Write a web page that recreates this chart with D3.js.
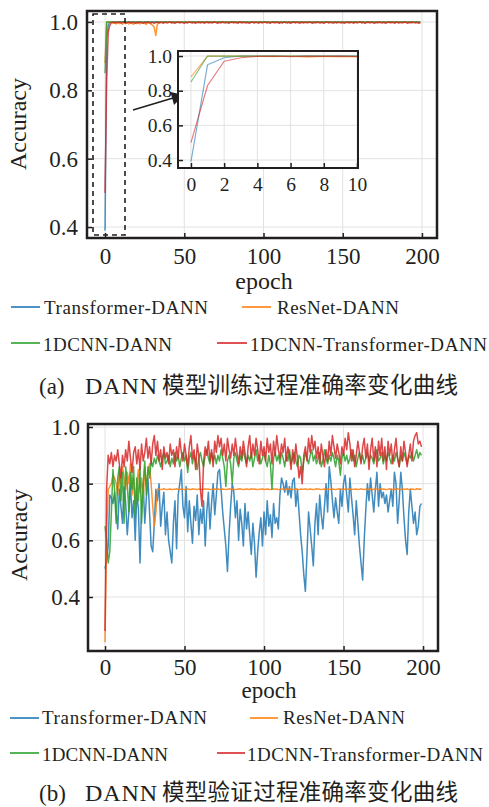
<!DOCTYPE html>
<html><head><meta charset="utf-8">
<script src="https://cdn.jsdelivr.net/npm/d3@7/dist/d3.min.js"></script>
<style>body{margin:0;background:#fff}svg{display:block}</style>
</head><body>
<svg id="c" width="489" height="807"></svg>
<script>
// ---------------- DATA ----------------
const seriesNames = ["Transformer-DANN", "ResNet-DANN", "1DCNN-DANN", "1DCNN-Transformer-DANN"];
const xTicks = [0, 50, 100, 150, 200];
const yTicksTrain = [0.4, 0.6, 0.8, 1.0];
const yTicksVal = [0.4, 0.6, 0.8, 1.0];
const insetXTicks = [0, 2, 4, 6, 8, 10];
const insetYTicks = [0.4, 0.6, 0.8, 1.0];
const captionA = ["(a)", "DANN", "模型训练过程准确率变化曲线"];
const captionB = ["(b)", "DANN", "模型验证过程准确率变化曲线"];

// Training accuracy (epochs 0..199)
const trainTransformer = [
0.39,0.95,0.99,1.0,0.999,1.0,0.998,1.0,1.0,0.999,
1.0,0.999,1.0,1.0,0.998,1.0,0.999,1.0,1.0,0.999,
1.0,1.0,0.999,1.0,0.998,1.0,1.0,0.999,1.0,1.0,
0.999,1.0,1.0,0.998,1.0,0.999,1.0,1.0,0.999,1.0,
1.0,0.999,1.0,0.998,1.0,1.0,0.999,1.0,1.0,0.999,
1.0,1.0,0.998,1.0,0.999,1.0,1.0,0.999,1.0,0.998,
1.0,0.999,1.0,1.0,0.999,1.0,0.998,1.0,1.0,0.999,
1.0,1.0,0.999,1.0,0.998,1.0,0.999,1.0,1.0,1.0,
0.999,1.0,1.0,0.998,1.0,0.999,1.0,1.0,0.999,1.0,
1.0,0.999,1.0,1.0,0.998,1.0,1.0,0.999,1.0,0.999,
1.0,1.0,0.999,1.0,0.998,1.0,1.0,0.999,1.0,1.0,
0.999,1.0,0.998,1.0,1.0,0.999,1.0,1.0,0.999,1.0,
1.0,0.999,1.0,1.0,0.998,1.0,0.999,1.0,1.0,0.999,
1.0,1.0,0.999,1.0,1.0,0.998,1.0,0.999,1.0,1.0,
0.999,1.0,1.0,0.999,1.0,0.998,1.0,1.0,0.999,1.0,
1.0,0.999,1.0,0.998,1.0,1.0,0.999,1.0,1.0,0.999,
1.0,1.0,0.999,1.0,0.998,1.0,1.0,0.999,1.0,1.0,
0.999,1.0,1.0,0.998,1.0,0.999,1.0,1.0,0.999,1.0,
1.0,0.999,1.0,1.0,0.999,1.0,0.998,1.0,1.0,0.999,
1.0,1.0,0.999,1.0,0.998,1.0,1.0,0.999,1.0,1.0];
const trainResNet = [
0.88,1.0,1.0,0.999,0.998,0.996,0.999,0.994,0.998,0.995,
0.997,0.993,0.998,0.995,0.999,0.994,0.997,0.996,0.993,0.998,
0.995,0.998,0.994,0.997,0.999,0.995,0.993,0.998,0.996,0.994,
0.99,0.985,0.96,0.993,0.997,0.999,0.998,1.0,0.999,0.998,
1.0,0.999,0.998,1.0,0.999,1.0,0.998,0.999,1.0,0.999,
0.998,1.0,0.999,0.999,1.0,0.998,1.0,0.999,1.0,0.998,
0.999,1.0,0.998,1.0,0.999,0.999,1.0,0.998,1.0,0.999,
1.0,0.998,0.999,1.0,0.999,0.998,1.0,0.999,1.0,0.998,
0.999,1.0,0.999,0.998,1.0,0.999,1.0,0.998,0.999,1.0,
0.998,0.999,1.0,0.999,0.998,1.0,0.999,1.0,0.998,0.999,
1.0,0.999,0.998,1.0,0.999,1.0,0.998,0.999,1.0,0.999,
0.998,1.0,0.999,1.0,0.998,0.999,1.0,0.999,0.998,1.0,
0.999,1.0,0.998,0.999,1.0,0.999,0.998,1.0,0.999,1.0,
0.998,0.999,1.0,0.999,0.998,1.0,0.999,1.0,0.998,0.999,
1.0,0.999,0.998,1.0,0.999,1.0,0.998,0.999,1.0,0.999,
0.998,1.0,0.999,1.0,0.998,0.999,1.0,0.999,0.998,1.0,
0.999,1.0,0.998,0.999,1.0,0.999,0.998,1.0,0.999,1.0,
0.998,0.999,1.0,0.999,0.998,1.0,0.999,1.0,0.998,0.999,
1.0,0.999,0.998,1.0,0.999,1.0,0.998,0.999,1.0,0.999,
0.998,1.0,0.999,1.0,0.998,0.999,1.0,0.999,0.998,1.0];
const trainCNN = [
0.85,1.0,1.0,1.0,0.999,1.0,1.0,0.999,1.0,1.0,
0.999,1.0,1.0,1.0,0.999,1.0,1.0,0.999,1.0,1.0,
1.0,0.999,1.0,1.0,0.999,1.0,1.0,1.0,0.999,1.0,
1.0,0.999,1.0,1.0,1.0,0.999,1.0,1.0,0.999,1.0,
1.0,1.0,0.999,1.0,1.0,0.999,1.0,1.0,1.0,0.999,
1.0,1.0,0.999,1.0,1.0,1.0,0.999,1.0,1.0,0.999,
1.0,1.0,1.0,0.999,1.0,1.0,0.999,1.0,1.0,1.0,
0.999,1.0,1.0,0.999,1.0,1.0,1.0,0.999,1.0,1.0,
0.999,1.0,1.0,1.0,0.999,1.0,1.0,0.999,1.0,1.0,
1.0,0.999,1.0,1.0,0.999,1.0,1.0,1.0,0.999,1.0,
1.0,0.999,1.0,1.0,1.0,0.999,1.0,1.0,0.999,1.0,
1.0,1.0,0.999,1.0,1.0,0.999,1.0,1.0,1.0,0.999,
1.0,1.0,0.999,1.0,1.0,1.0,0.999,1.0,1.0,0.999,
1.0,1.0,1.0,0.999,1.0,1.0,0.999,1.0,1.0,1.0,
0.999,1.0,1.0,0.999,1.0,1.0,1.0,0.999,1.0,1.0,
0.999,1.0,1.0,1.0,0.999,1.0,1.0,0.999,1.0,1.0,
1.0,0.999,1.0,1.0,0.999,1.0,1.0,1.0,0.999,1.0,
1.0,0.999,1.0,1.0,1.0,0.999,1.0,1.0,0.999,1.0,
1.0,1.0,0.999,1.0,1.0,0.999,1.0,1.0,1.0,0.999,
1.0,1.0,0.999,1.0,1.0,1.0,0.999,1.0,1.0,1.0];
const trainHybrid = [
0.50,0.83,0.97,0.99,0.998,1.0,0.997,0.999,0.998,1.0,
0.997,0.999,1.0,0.996,0.998,1.0,0.997,0.999,0.998,0.996,
0.999,0.997,1.0,0.998,0.996,0.999,0.997,1.0,0.998,0.997,
0.999,0.996,0.998,1.0,0.997,0.999,0.998,0.996,1.0,0.997,
0.998,1.0,0.997,0.999,0.996,0.998,1.0,0.997,0.999,0.998,
0.996,0.999,0.997,1.0,0.998,0.997,0.999,0.996,0.998,1.0,
0.997,0.999,0.998,0.996,1.0,0.997,0.999,0.998,0.997,1.0,
0.998,0.996,0.999,0.997,1.0,0.998,0.997,0.999,0.996,0.998,
1.0,0.997,0.999,0.998,0.996,1.0,0.997,0.999,0.998,0.997,
0.999,0.996,0.998,1.0,0.997,0.999,0.998,0.996,1.0,0.997,
0.998,1.0,0.997,0.999,0.996,0.998,1.0,0.997,0.999,0.998,
0.996,0.999,0.997,1.0,0.998,0.997,0.999,0.996,0.998,1.0,
0.997,0.999,0.998,0.996,1.0,0.997,0.999,0.998,0.997,1.0,
0.998,0.996,0.999,0.997,1.0,0.998,0.997,0.999,0.996,0.998,
1.0,0.997,0.999,0.998,0.996,1.0,0.997,0.999,0.998,0.997,
0.999,0.996,0.998,1.0,0.997,0.999,0.998,0.996,1.0,0.997,
0.998,1.0,0.997,0.999,0.996,0.998,1.0,0.997,0.999,0.998,
0.996,0.999,0.997,1.0,0.998,0.997,0.999,0.996,0.998,1.0,
0.997,0.999,0.998,0.996,1.0,0.997,0.999,0.998,0.997,1.0,
0.998,0.996,0.999,0.997,1.0,0.998,0.997,0.999,0.996,0.998];

// Validation accuracy (epochs 0..199)
const valTransformer = [
0.50,0.53,0.58,0.76,0.75,0.73,0.77,0.70,0.64,0.78,
0.72,0.66,0.79,0.73,0.62,0.70,0.80,0.68,0.74,0.60,
0.77,0.71,0.52,0.72,0.80,0.66,0.75,0.82,0.70,0.58,
0.56,0.66,0.78,0.74,0.80,0.65,0.72,0.77,0.62,0.70,
0.60,0.56,0.52,0.66,0.74,0.57,0.76,0.80,0.85,0.72,
0.68,0.79,0.63,0.74,0.66,0.59,0.72,0.67,0.76,0.62,
0.71,0.66,0.74,0.58,0.70,0.77,0.64,0.73,0.80,0.69,
0.76,0.84,0.85,0.78,0.70,0.64,0.58,0.49,0.62,0.72,
0.80,0.77,0.68,0.74,0.60,0.71,0.66,0.58,0.73,0.64,
0.70,0.62,0.55,0.66,0.59,0.47,0.56,0.63,0.68,0.58,
0.70,0.62,0.74,0.65,0.69,0.61,0.73,0.66,0.68,0.64,
0.76,0.82,0.80,0.77,0.81,0.76,0.79,0.75,0.81,0.82,
0.72,0.78,0.70,0.62,0.56,0.48,0.42,0.55,0.70,0.64,
0.58,0.51,0.66,0.73,0.62,0.76,0.69,0.64,0.72,0.80,
0.70,0.86,0.81,0.74,0.68,0.75,0.70,0.66,0.78,0.72,
0.80,0.83,0.76,0.70,0.82,0.75,0.69,0.62,0.74,0.66,
0.58,0.52,0.46,0.60,0.71,0.80,0.74,0.82,0.76,0.70,
0.78,0.84,0.72,0.80,0.75,0.77,0.73,0.76,0.70,0.74,
0.78,0.72,0.84,0.80,0.66,0.74,0.84,0.78,0.68,0.60,
0.55,0.70,0.78,0.72,0.66,0.70,0.62,0.65,0.72,0.73];
const valResNet = [
0.24,0.62,0.78,0.79,0.80,0.83,0.82,0.80,0.76,0.84,
0.80,0.86,0.82,0.78,0.84,0.80,0.87,0.76,0.82,0.73,
0.80,0.85,0.77,0.82,0.74,0.86,0.79,0.84,0.87,0.80,
0.72,0.65,0.70,0.78,0.781,0.779,0.78,0.782,0.78,0.779,
0.78,0.781,0.779,0.78,0.78,0.782,0.779,0.78,0.781,0.78,
0.779,0.78,0.781,0.78,0.779,0.782,0.78,0.78,0.779,0.781,
0.78,0.779,0.78,0.782,0.78,0.781,0.779,0.78,0.78,0.781,
0.78,0.782,0.779,0.78,0.781,0.78,0.779,0.78,0.782,0.78,
0.781,0.78,0.779,0.78,0.781,0.782,0.78,0.779,0.78,0.781,
0.78,0.779,0.782,0.78,0.781,0.78,0.779,0.78,0.78,0.782,
0.779,0.78,0.781,0.78,0.779,0.78,0.782,0.78,0.781,0.779,
0.78,0.781,0.78,0.779,0.782,0.78,0.78,0.781,0.779,0.78,
0.782,0.78,0.779,0.781,0.78,0.78,0.782,0.779,0.78,0.781,
0.78,0.779,0.78,0.782,0.781,0.78,0.779,0.78,0.781,0.78,
0.782,0.779,0.78,0.781,0.78,0.779,0.78,0.782,0.78,0.781,
0.779,0.78,0.781,0.78,0.782,0.779,0.78,0.78,0.781,0.779,
0.78,0.782,0.78,0.779,0.781,0.78,0.78,0.782,0.779,0.78,
0.781,0.78,0.779,0.782,0.78,0.781,0.78,0.779,0.78,0.782,
0.78,0.779,0.781,0.78,0.782,0.78,0.779,0.781,0.78,0.78,
0.782,0.779,0.78,0.781,0.78,0.779,0.782,0.78,0.781,0.78];
const valCNN = [
0.65,0.60,0.52,0.56,0.70,0.85,0.78,0.66,0.82,0.86,
0.74,0.84,0.66,0.86,0.80,0.70,0.84,0.78,0.86,0.68,
0.82,0.74,0.86,0.66,0.80,0.88,0.76,0.86,0.82,0.88,
0.86,0.89,0.87,0.90,0.88,0.86,0.89,0.91,0.87,0.88,
0.90,0.86,0.89,0.87,0.91,0.88,0.90,0.86,0.89,0.91,
0.88,0.90,0.84,0.89,0.91,0.87,0.90,0.88,0.85,0.89,
0.91,0.88,0.86,0.90,0.92,0.89,0.87,0.91,0.88,0.90,
0.87,0.90,0.88,0.92,0.89,0.86,0.79,0.88,0.90,0.87,
0.80,0.89,0.91,0.88,0.86,0.90,0.88,0.92,0.89,0.87,
0.90,0.88,0.91,0.86,0.89,0.92,0.88,0.90,0.87,0.89,
0.91,0.88,0.86,0.90,0.87,0.78,0.89,0.91,0.88,0.90,
0.87,0.91,0.89,0.86,0.90,0.88,0.92,0.87,0.89,0.91,
0.88,0.86,0.90,0.89,0.84,0.88,0.91,0.89,0.87,0.90,
0.92,0.88,0.90,0.87,0.89,0.91,0.86,0.88,0.92,0.89,
0.87,0.90,0.88,0.91,0.89,0.86,0.90,0.88,0.83,0.89,
0.91,0.88,0.90,0.87,0.89,0.92,0.88,0.90,0.86,0.89,
0.91,0.88,0.90,0.87,0.89,0.91,0.88,0.90,0.89,0.87,
0.90,0.92,0.88,0.89,0.91,0.87,0.90,0.88,0.91,0.89,
0.87,0.90,0.88,0.91,0.89,0.86,0.90,0.88,0.91,0.89,
0.87,0.90,0.89,0.91,0.88,0.90,0.92,0.89,0.91,0.90];
const valHybrid = [
0.28,0.78,0.90,0.87,0.91,0.86,0.90,0.88,0.92,0.87,
0.82,0.90,0.86,0.92,0.88,0.95,0.89,0.84,0.91,0.93,
0.87,0.92,0.85,0.94,0.88,0.91,0.96,0.89,0.93,0.87,
0.94,0.97,0.90,0.95,0.88,0.92,0.85,0.93,0.89,0.91,
0.87,0.94,0.90,0.92,0.86,0.93,0.89,0.96,0.91,0.88,
0.94,0.90,0.86,0.93,0.97,0.89,0.92,0.85,0.94,0.90,
0.78,0.72,0.88,0.93,0.90,0.95,0.88,0.92,0.86,0.95,
0.91,0.97,0.93,0.96,0.90,0.94,0.88,0.96,0.92,0.89,
0.94,0.90,0.96,0.91,0.87,0.93,0.89,0.95,0.91,0.86,
0.93,0.97,0.89,0.94,0.90,0.96,0.92,0.87,0.95,0.90,
0.93,0.88,0.96,0.91,0.94,0.87,0.95,0.90,0.97,0.92,
0.89,0.94,0.91,0.96,0.88,0.93,0.90,0.85,0.92,0.87,
0.94,0.89,0.82,0.86,0.80,0.90,0.93,0.88,0.96,0.91,
0.97,0.92,0.95,0.89,0.93,0.87,0.94,0.90,0.86,0.92,
0.88,0.95,0.90,0.97,0.93,0.89,0.94,0.91,0.87,0.93,
0.90,0.96,0.92,0.98,0.94,0.88,0.92,0.86,0.90,0.95,
0.91,0.87,0.93,0.96,0.89,0.94,0.85,0.92,0.96,0.88,
0.93,0.86,0.95,0.90,0.96,0.88,0.93,0.85,0.95,0.90,
0.94,0.87,0.92,0.96,0.89,0.86,0.93,0.88,0.95,0.91,
0.86,0.90,0.94,0.88,0.95,0.97,0.98,0.94,0.95,0.93];

const trainSeries = [trainTransformer, trainResNet, trainCNN, trainHybrid];
const valSeries = [valTransformer, valResNet, valCNN, valHybrid];

// ---------------- STYLE ----------------
const colors = ["#1f77b4", "#ff7f0e", "#2ca02c", "#d62728"];
const ink = "#231f20";
const gridColor = "#e2e2e2";
const serif = "'Liberation Serif','Times New Roman',serif";
const cjk = "'Noto Sans CJK SC','Noto Sans CJK JP',sans-serif";

const svg = d3.select("#c");

function panel(opt) {
  const g = svg.append("g");
  const x = d3.scaleLinear().domain(opt.xDomain).range([opt.left, opt.right]);
  const y = d3.scaleLinear().domain(opt.yDomain).range([opt.bottom, opt.top]);
  if (opt.fill) {
    g.append("rect").attr("x", opt.left).attr("y", opt.top)
      .attr("width", opt.right - opt.left).attr("height", opt.bottom - opt.top)
      .attr("fill", "#fff");
  }
  g.append("g").selectAll("line").data(opt.xTicks).join("line")
    .attr("x1", d => x(d)).attr("x2", d => x(d)).attr("y1", opt.top).attr("y2", opt.bottom)
    .attr("stroke", gridColor).attr("stroke-width", 1);
  g.append("g").selectAll("line").data(opt.yTicks).join("line")
    .attr("y1", d => y(d)).attr("y2", d => y(d)).attr("x1", opt.left).attr("x2", opt.right)
    .attr("stroke", gridColor).attr("stroke-width", 1);
  const clipId = "clip" + Math.round(opt.left) + "_" + Math.round(opt.top);
  svg.append("defs").append("clipPath").attr("id", clipId).append("rect")
    .attr("x", opt.left).attr("y", opt.top).attr("width", opt.right - opt.left).attr("height", opt.bottom - opt.top);
  const line = d3.line().x((d, i) => x(i)).y(d => y(d));
  const lg = g.append("g").attr("clip-path", `url(#${clipId})`);
  opt.series.forEach((s, k) => {
    const data = opt.maxEpoch != null ? s.slice(0, opt.maxEpoch + 1) : s;
    lg.append("path").datum(data).attr("d", line).attr("fill", "none")
      .attr("stroke", colors[k]).attr("stroke-opacity", opt.lineOpacity)
      .attr("stroke-width", opt.lineWidth).attr("stroke-linejoin", "round");
  });
  const ax = g.append("g").attr("transform", `translate(0,${opt.bottom})`)
    .call(d3.axisBottom(x).tickValues(opt.xTicks).tickFormat(d3.format("d"))
      .tickSizeInner(-opt.tickLen).tickSizeOuter(0).tickPadding(opt.xPad));
  const ay = g.append("g").attr("transform", `translate(${opt.left},0)`)
    .call(d3.axisLeft(y).tickValues(opt.yTicks).tickFormat(d3.format(".1f"))
      .tickSizeInner(-opt.tickLen).tickSizeOuter(0).tickPadding(opt.yPad));
  [ax, ay].forEach(a => {
    a.select(".domain").remove();
    a.selectAll("line").attr("stroke", ink).attr("stroke-width", 1.5);
    a.selectAll("text").attr("fill", ink).style("font-family", serif).style("font-size", opt.fontSize + "px");
  });
  g.append("rect").attr("x", opt.left).attr("y", opt.top)
    .attr("width", opt.right - opt.left).attr("height", opt.bottom - opt.top)
    .attr("fill", "none").attr("stroke", ink).attr("stroke-width", opt.frameWidth);
  return {x, y, g};
}

// ---------------- TOP PANEL (training) ----------------
panel({
  left: 87, right: 437, top: 11, bottom: 238,
  xDomain: [-11.4, 209.5], yDomain: [0.368, 1.032],
  xTicks, yTicks: yTicksTrain, series: trainSeries,
  tickLen: 5, xPad: 10, yPad: 9, fontSize: 23, frameWidth: 2.5,
  lineWidth: 1.5, lineOpacity: 0.8, fill: true
});

svg.append("rect").attr("x", 93).attr("y", 14).attr("width", 32).attr("height", 221)
  .attr("fill", "none").attr("stroke", ink).attr("stroke-width", 1.6).attr("stroke-dasharray", "5,4");

svg.append("line").attr("x1", 133).attr("y1", 110).attr("x2", 173).attr("y2", 98)
  .attr("stroke", ink).attr("stroke-width", 1.6);
svg.append("path").attr("d", "M184,95 L170.5,92 L174,105 Z").attr("fill", ink);

panel({
  left: 178, right: 358, top: 51, bottom: 168,
  xDomain: [-0.78, 10.06], yDomain: [0.354, 1.029],
  xTicks: insetXTicks, yTicks: insetYTicks, series: trainSeries, maxEpoch: 11,
  tickLen: 5, xPad: 9, yPad: 6, fontSize: 19.5, frameWidth: 2,
  lineWidth: 1.2, lineOpacity: 0.6, fill: true
});

svg.append("text").attr("x", 264).attr("y", 289).attr("text-anchor", "middle")
  .style("font-family", serif).style("font-size", "24px").attr("fill", ink).text("epoch");
svg.append("text").attr("transform", "translate(26,124) rotate(-90)").attr("text-anchor", "middle")
  .style("font-family", serif).style("font-size", "24px").attr("fill", ink).text("Accuracy");

// ---------------- BOTTOM PANEL (validation) ----------------
panel({
  left: 88, right: 438, top: 424, bottom: 651,
  xDomain: [-10.7, 209.4], yDomain: [0.2094, 1.0106],
  xTicks, yTicks: yTicksVal, series: valSeries,
  tickLen: 5, xPad: 8, yPad: 8, fontSize: 23, frameWidth: 2.5,
  lineWidth: 1.5, lineOpacity: 0.85, fill: true
});
svg.append("text").attr("x", 269).attr("y", 698).attr("text-anchor", "middle")
  .style("font-family", serif).style("font-size", "23px").attr("fill", ink).text("epoch");
svg.append("text").attr("transform", "translate(27,535) rotate(-90)").attr("text-anchor", "middle")
  .style("font-family", serif).style("font-size", "24px").attr("fill", ink).text("Accuracy");

// ---------------- LEGENDS ----------------
function legend(items) {
  const lg = svg.append("g");
  items.forEach((it, k) => {
    lg.append("line").attr("x1", it.lx1).attr("x2", it.lx2).attr("y1", it.ly).attr("y2", it.ly)
      .attr("stroke", colors[k]).attr("stroke-opacity", 0.8).attr("stroke-width", 2);
    lg.append("text").attr("x", it.tx).attr("y", it.ty)
      .attr("textLength", it.tw).attr("lengthAdjust", "spacing")
      .style("font-family", serif).style("font-size", "19px").attr("fill", ink).text(seriesNames[k]);
  });
}
legend([
  {lx1: 11, lx2: 40, ly: 307, tx: 44, ty: 314, tw: 164},
  {lx1: 242, lx2: 271, ly: 307, tx: 277, ty: 314, tw: 122},
  {lx1: 11, lx2: 40, ly: 343, tx: 43, ty: 351, tw: 129},
  {lx1: 217, lx2: 247, ly: 343, tx: 250, ty: 351, tw: 237}
]);
legend([
  {lx1: 10, lx2: 39, ly: 718, tx: 42, ty: 724, tw: 165},
  {lx1: 250, lx2: 278, ly: 718, tx: 283, ty: 724, tw: 122},
  {lx1: 10, lx2: 39, ly: 753, tx: 42, ty: 761, tw: 126},
  {lx1: 217, lx2: 245, ly: 753, tx: 247, ty: 761, tw: 236}
]);

// ---------------- CAPTIONS ----------------
function caption(parts, yBase) {
  svg.append("text").attr("x", 39).attr("y", yBase).style("font-family", serif)
    .style("font-size", "23px").attr("fill", ink).text(parts[0]);
  svg.append("text").attr("x", 85).attr("y", yBase).attr("textLength", 72).attr("lengthAdjust", "spacing")
    .style("font-family", serif).style("font-size", "24px").attr("fill", ink).text(parts[1]);
  svg.append("text").attr("x", 162).attr("y", yBase - 1).attr("textLength", 296).attr("lengthAdjust", "spacing")
    .style("font-family", cjk).style("font-size", "22.5px").attr("fill", ink).text(parts[2]);
}
caption(captionA, 394);
caption(captionB, 801);
</script>
</body></html>
